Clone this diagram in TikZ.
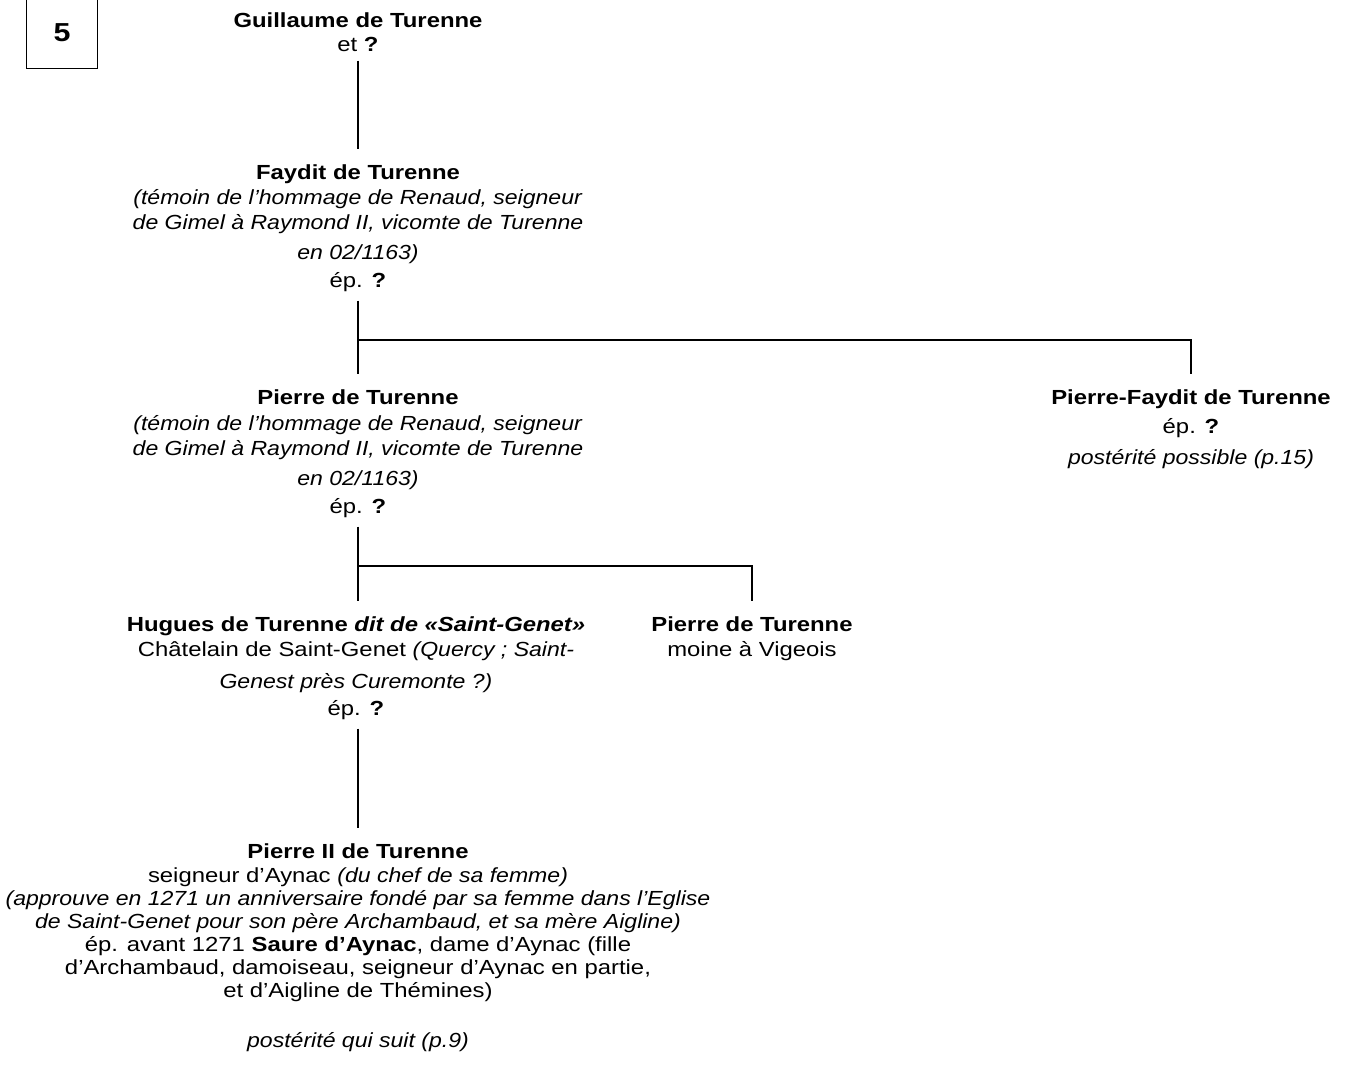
\documentclass[tikz,border=0pt]{standalone}
\usepackage{fontspec}
\setmainfont{Liberation Sans}[FakeStretch=1.17, ItalicFeatures={FakeStretch=1.13}]
\newlength\px
\setlength\px{0.75pt}
\begin{document}
\begin{tikzpicture}[x=0.75pt,y=-0.75pt,
  txt/.style={align=center, inner sep=0pt, anchor=north,
    font=\fontsize{15.3pt}{17.25pt}\selectfont},
  link/.style={line width=2.6\px, shorten <=9\px, shorten >=15\px},
  hlink/.style={line width=2.3\px, shorten >=15\px}]
\useasboundingbox (0,0) rectangle (1353,1079);
\node[draw, line width=1\px, minimum width=71\px, minimum height=71\px, inner sep=0pt,
  font=\fontsize{19.5pt}{20pt}\selectfont\bfseries] (num) at (62,33) {5};

\node[txt] (g) at (358,12) {\textbf{Guillaume de Turenne}\\[1\px] et \textbf{?}};

\node[txt] (f) at (358,164) {\textbf{Faydit de Turenne}\\[2\px]
  \textit{(témoin de l’hommage de Renaud, seigneur}\\[2\px]
  \textit{de Gimel à Raymond II, vicomte de Turenne}\\[7\px]
  \textit{en 02/1163)}\\[5\px]
  ép. \textbf{?}};

\node[txt] (p) at (358,389) {\textbf{Pierre de Turenne}\\[3\px]
  \textit{(témoin de l’hommage de Renaud, seigneur}\\[2\px]
  \textit{de Gimel à Raymond II, vicomte de Turenne}\\[7\px]
  \textit{en 02/1163)}\\[5\px]
  ép. \textbf{?}};

\node[txt] (pf) at (1191,389) {\textbf{Pierre-Faydit de Turenne}\\[6\px]
  ép. \textbf{?}\\[8\px]
  \textit{postérité possible (p.15)}};

\node[txt] (h) at (356,616) {\textbf{Hugues de Turenne \textit{dit de «Saint-Genet»}}\\[2\px]
  Châtelain de Saint-Genet \textit{(Quercy ; Saint-}\\[9\px]
  \textit{Genest près Curemonte ?)}\\[4\px]
  ép. \textbf{?}};

\node[txt] (m) at (752,616) {\textbf{Pierre de Turenne}\\[2\px] moine à Vigeois};

\node[txt] (p2) at (358,843) {\textbf{Pierre II de Turenne}\\[1\px]
  seigneur d’Aynac \textit{(du chef de sa femme)}\\
  \textit{(approuve en 1271 un anniversaire fondé par sa femme dans l’Eglise}\\
  \textit{de Saint-Genet pour son père Archambaud, et sa mère Aigline)}\\
  ép. avant 1271 \textbf{Saure d’Aynac}, dame d’Aynac (fille\\
  d’Archambaud, damoiseau, seigneur d’Aynac en partie,\\
  et d’Aigline de Thémines)\\[27\px]
  \textit{postérité qui suit (p.9)}};

\coordinate (j1) at (358,340);
\coordinate (j2) at (358,566);

\draw[link] (g.south) -- (f.north);
\draw[link] (f.south) -- (p.north);
\draw[hlink] (j1) -| (pf.north);
\draw[link] (p.south) -- (p.south |- h.north);
\draw[hlink] (j2) -| (m.north);
\draw[link] (p2.north |- h.south) -- (p2.north);
\end{tikzpicture}
\end{document}
